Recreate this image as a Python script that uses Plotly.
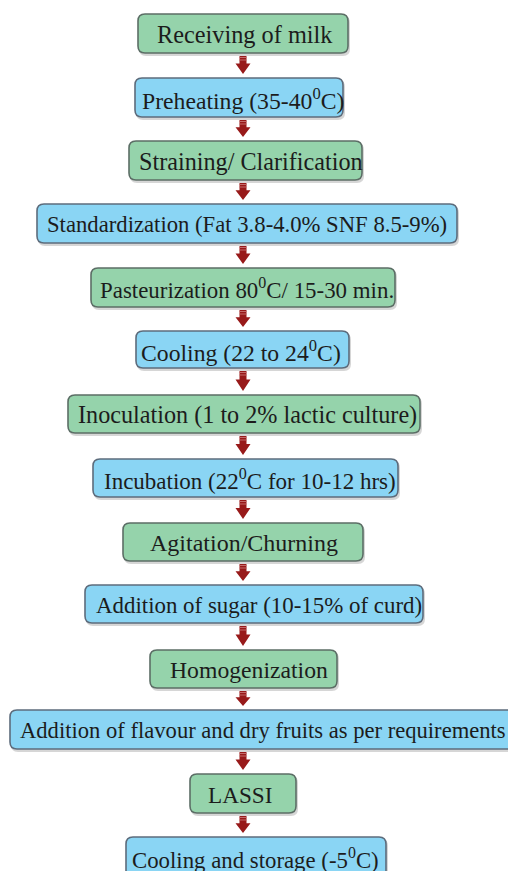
import plotly.graph_objects as go

# ---- content ----
steps = [
    "Receiving of milk",
    "Preheating (35-40<sup>0</sup>C)",
    "Straining/ Clarification",
    "Standardization (Fat 3.8-4.0% SNF 8.5-9%)",
    "Pasteurization 80<sup>0</sup>C/ 15-30 min.",
    "Cooling (22 to 24<sup>0</sup>C)",
    "Inoculation (1 to 2% lactic culture)",
    "Incubation (22<sup>0</sup>C for 10-12 hrs)",
    "Agitation/Churning",
    "Addition of sugar (10-15% of curd)",
    "Homogenization",
    "Addition of flavour and dry fruits as per requirements",
    "LASSI",
    "Cooling and storage (-5<sup>0</sup>C)",
]
step_kind = ["g", "b", "g", "b", "g", "b", "g", "b", "g", "b", "g", "b", "g", "b"]

# ---- layout geometry (page pixels) ----
box_x0 = [138, 135, 129, 37, 91, 136, 68, 93, 123, 85, 150, 10, 190, 126]
box_x1 = [348, 343, 362, 457, 395, 349, 420, 398, 363, 423, 337, 514, 296, 386]
box_y0 = [14, 78, 141, 204, 268, 331, 395, 459, 523, 585, 650, 710, 774, 837]
box_y1 = [53, 117, 180, 243, 307, 368, 433, 497, 561, 623, 688, 749, 813, 885]
text_x = [245, 242.5, 251, 246.5, 246.5, 240.5, 247.5, 249.5, 243.5, 259, 249, 263, 240, 255]
text_size = [24.3, 23.7, 24.2, 22.7, 22.9, 23.7, 24.2, 23.0, 24.0, 22.9, 23.7, 22.6, 23.2, 22.8]

fills = {"g": "#95d3ab", "b": "#8ad5f4"}
lines = {"g": "#5c6e66", "b": "#5d6c7c"}

PAGE_W, PAGE_H = 508, 871
ARROW_X = 243


def rrect(x0, y0, x1, y1, r=7):
    return (f"M {x0+r},{y0} L {x1-r},{y0} Q {x1},{y0} {x1},{y0+r} "
            f"L {x1},{y1-r} Q {x1},{y1} {x1-r},{y1} L {x0+r},{y1} "
            f"Q {x0},{y1} {x0},{y1-r} L {x0},{y0+r} Q {x0},{y0} {x0+r},{y0} Z")


fig = go.Figure()
shapes = []
annotations = []

for i, label in enumerate(steps):
    x0, x1, y0, y1 = box_x0[i], box_x1[i], box_y0[i], box_y1[i]
    k = step_kind[i]
    shapes.append(dict(type="path", path=rrect(x0 + 1, y0 + 2, x1 + 2, y1 + 3),
                       xref="x", yref="y", fillcolor="rgba(90,90,90,0.25)",
                       line=dict(width=0), layer="below"))
    shapes.append(dict(type="path", path=rrect(x0, y0, x1, y1),
                       xref="x", yref="y", fillcolor=fills[k],
                       line=dict(color=lines[k], width=1.6), layer="below"))
    cy = (y0 + y1) / 2 + 1 if i < len(steps) - 1 else y0 + 21
    annotations.append(dict(x=text_x[i], y=cy, xref="x", yref="y",
                            text=label, showarrow=False,
                            font=dict(family="Liberation Serif", size=text_size[i],
                                      color="#1c1c1c"),
                            xanchor="center", yanchor="middle"))

for i in range(len(steps) - 1):
    top = box_y1[i] + 3
    bot = box_y0[i + 1] - 4
    mid = top + (bot - top) * 0.42
    shaft = (f"M {ARROW_X-3.5},{top} L {ARROW_X+3.5},{top} L {ARROW_X+3.5},{mid} "
             f"L {ARROW_X+7.5},{mid} L {ARROW_X},{bot} L {ARROW_X-7.5},{mid} "
             f"L {ARROW_X-3.5},{mid} Z")
    shapes.append(dict(type="path", path=shaft, xref="x", yref="y",
                       fillcolor="#981a1a", line=dict(width=0)))
    for s in (1.5, 4.0):
        shapes.append(dict(type="line", x0=ARROW_X - 3.5, x1=ARROW_X + 3.5,
                           y0=top + s, y1=top + s, xref="x", yref="y",
                           line=dict(color="#c46a6a", width=1)))

fig.update_layout(
    width=PAGE_W, height=PAGE_H,
    margin=dict(l=0, r=0, t=0, b=0),
    paper_bgcolor="white", plot_bgcolor="white",
    shapes=shapes, annotations=annotations,
    xaxis=dict(range=[0, PAGE_W], visible=False, fixedrange=True),
    yaxis=dict(range=[PAGE_H, 0], visible=False, fixedrange=True),
    showlegend=False,
)

fig.write_html(
    "out.html",
    config={"displayModeBar": False, "staticPlot": True},
    post_script="document.body.style.margin='0';document.body.style.overflow='hidden';",
)
